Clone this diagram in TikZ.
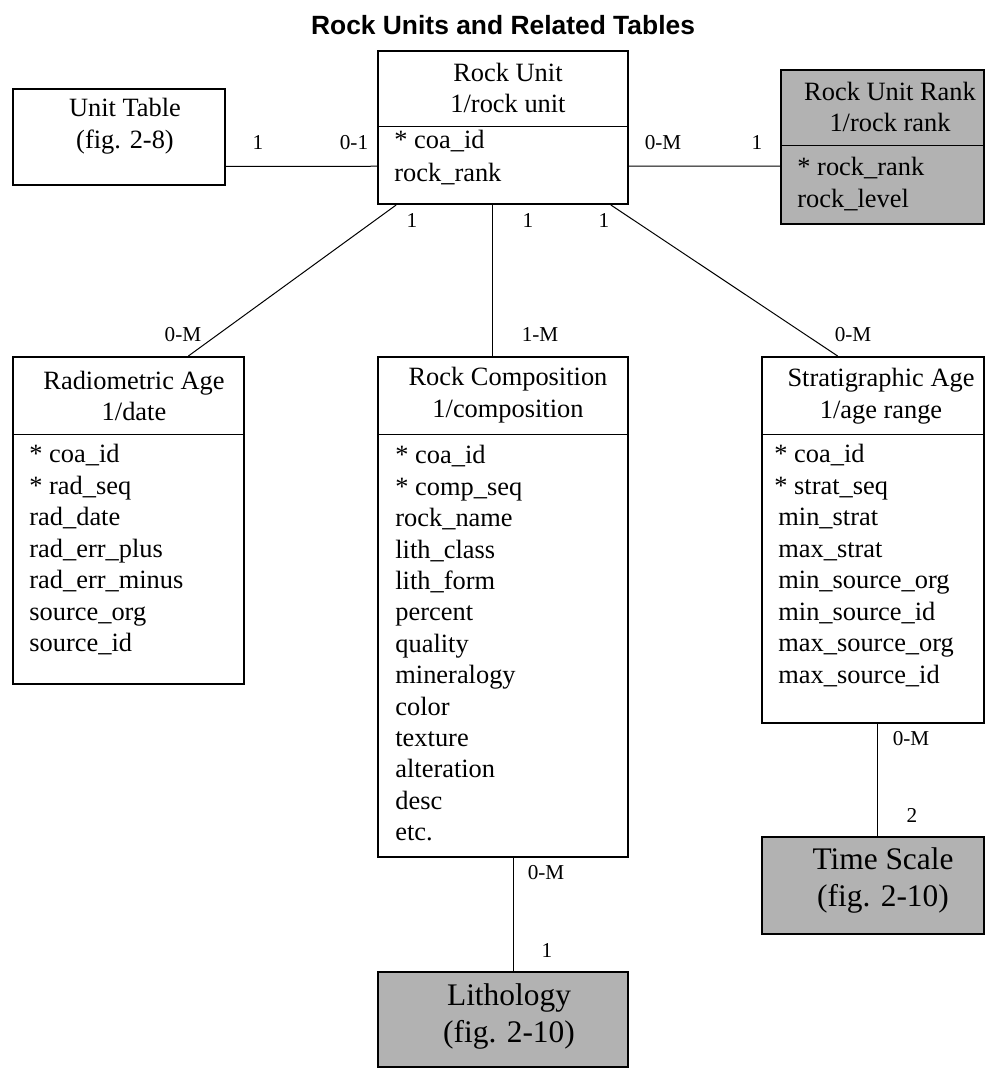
\documentclass[tikz,border=0pt]{standalone}
\usepackage{fontspec}
\setmainfont{Liberation Serif}
\newfontfamily\titlefont{Liberation Sans}
\usetikzlibrary{fit,calc}
\tikzstyle{tbl}=[draw, line width=1pt, inner sep=0pt, fill=white]
\tikzstyle{refbox}=[tbl, fill=black!30]
\tikzstyle{hdr}=[align=center, inner sep=0pt, font=\fontsize{13.2}{15.7}\selectfont]
\tikzstyle{bighdr}=[align=center, inner sep=0pt, font=\fontsize{15.7}{18.5}\selectfont]
\tikzstyle{field}=[anchor=west, inner sep=0pt, text height=9.2pt, text depth=3.3pt, font=\fontsize{13.2}{15.7}\selectfont]
\tikzstyle{card}=[inner sep=0pt, font=\fontsize{10.6}{12.7}\selectfont]
\tikzstyle{link}=[draw, line width=0.5pt, -]
\tikzstyle{divider}=[draw, line width=0.5pt]

\begin{document}
\begin{tikzpicture}[x=0.5pt, y=-0.5pt]
    \useasboundingbox (0,0) rectangle (985,1068);
    % Title
    \node[font=\titlefont\bfseries\fontsize{13.2}{15.7}\selectfont] (title) at (503,25) {Rock Units and Related Tables};

    % First we draw the table boxes
    \node[tbl, fit={(13,89) (225,185)}] (unit) {};
    \node[tbl, fit={(378,51) (628,204)}] (ru) {};
    \node[refbox, fit={(781,70) (984,224)}] (rank) {};
    \node[tbl, fit={(13,357) (244,684)}] (rad) {};
    \node[tbl, fit={(378,357) (628,857)}] (comp) {};
    \node[tbl, fit={(762,357) (984,723)}] (strat) {};
    \node[refbox, fit={(378,972) (628,1067)}] (litho) {};
    \node[refbox, fit={(762,837) (984,934)}] (time) {};

    % Header dividers
    \foreach \name/\y in {ru/127, rank/146, rad/435, comp/435, strat/435}
        \path[divider] (\name.west |- 0,\y) -- (\name.east |- 0,\y);

    % Header texts
    \node[hdr] (unit-h) at (125,126) {Unit Table\\(fig. 2-8)};
    \node[hdr] (ru-h) at (508,88) {Rock Unit\\1/rock unit};
    \node[hdr] (rank-h) at (890,107) {Rock Unit Rank\\1/rock rank};
    \node[hdr] (rad-h) at (134,396) {Radiometric Age\\1/date};
    \node[hdr] (comp-h) at (508,395) {Rock Composition\\1/composition};
    \node[hdr] (strat-h) at (881,396) {Stratigraphic Age\\1/age range};
    \node[bighdr] (litho-h) at (509,1016) {Lithology\\(fig. 2-10)};
    \node[bighdr] (time-h) at (883,880) {Time Scale\\(fig. 2-10)};

    % Field lists
    \foreach \f [count=\i from 0] in {* coa\_id, rock\_rank}
        \node[field] (ru\i) at (394,{143+32.5*\i}) {\f};
    \foreach \f [count=\i from 0] in {* rock\_rank, rock\_level}
        \node[field] (rank\i) at (797,{170+32*\i}) {\f};
    \foreach \f [count=\i from 0] in {* coa\_id, * rad\_seq, rad\_date, rad\_err\_plus, rad\_err\_minus, source\_org, source\_id}
        \node[field] (rad\i) at (29,{457+31.45*\i}) {\f};
    \foreach \f [count=\i from 0] in {* coa\_id, * comp\_seq, rock\_name, lith\_class, lith\_form, percent, quality, mineralogy, color, texture, alteration, desc, etc.}
        \node[field] (comp\i) at (395,{458+31.4*\i}) {\f};
    \foreach \f [count=\i from 0] in {* coa\_id, * strat\_seq, \hspace*{2pt}min\_strat, \hspace*{2pt}max\_strat, \hspace*{2pt}min\_source\_org, \hspace*{2pt}min\_source\_id, \hspace*{2pt}max\_source\_org, \hspace*{2pt}max\_source\_id}
        \node[field] (strat\i) at (774,{457+31.45*\i}) {\f};

    % Connect tables with relationship lines
    \path[link] ($(unit.north east)!0.8!(unit.south east)$) -- ($(ru.north west)!0.75!(ru.south west)$);
    \path[link] ($(ru.north east)!0.75!(ru.south east)$) -- ($(rank.north west)!0.623!(rank.south west)$);
    \path[link] ($(ru.south west)!0.076!(ru.south east)$) -- ($(rad.north west)!0.757!(rad.north east)$);
    \path[link] ($(ru.south west)!0.46!(ru.south east)$) -- ($(comp.north west)!0.46!(comp.north east)$);
    \path[link] ($(ru.south west)!0.928!(ru.south east)$) -- ($(strat.north west)!0.342!(strat.north east)$);
    \path[link] ($(comp.south west)!0.54!(comp.south east)$) -- ($(litho.north west)!0.54!(litho.north east)$);
    \path[link] ($(strat.south west)!0.518!(strat.south east)$) -- ($(time.north west)!0.518!(time.north east)$);

    % Cardinality labels
    \foreach \pos/\name/\txt in {{(258,143)/c1/1}, {(354,143)/c2/0-1}, {(663,143)/c3/0-M}, {(757,143)/c4/1},
        {(412,221)/c5/1}, {(528,221)/c6/1}, {(604,221)/c7/1},
        {(183,335)/c8/0-M}, {(540,335)/c9/1-M}, {(853,335)/c10/0-M},
        {(546,873)/c11/0-M}, {(547,950)/c12/1}, {(911,739)/c13/0-M}, {(912,815)/c14/2}}
        \node[card] (\name) at \pos {\txt};
\end{tikzpicture}
\end{document}
